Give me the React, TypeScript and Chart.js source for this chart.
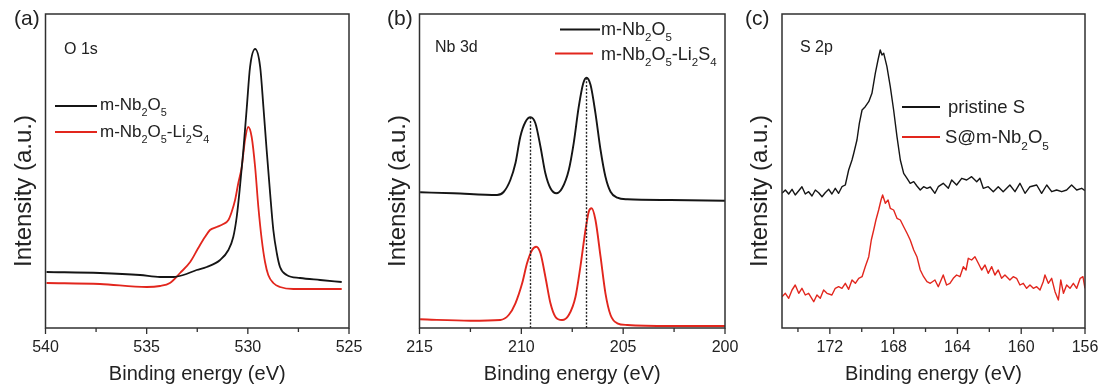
import React, { useEffect, useRef } from "react";
import { Chart, registerables } from "chart.js";

Chart.register(...registerables);

const FONT = '"Liberation Sans", Arial, Helvetica, sans-serif';
const H = 387;
const BLACK = "#151515";
const RED = "#e2261d";
const INK = "#222222";

// ---------- Panel (a) O 1s ----------
const aPristineE = [539.95, 537.31, 535.33, 534.34, 533.68, 533.19, 532.53, 532.03, 531.37, 530.96, 530.72, 530.55, 530.39, 530.22, 530.05, 529.89, 529.64, 529.39, 529.23, 529.07, 528.9, 528.74, 528.57, 528.41, 528.08, 527.42, 526.43, 525.36];
const aPristineI = [56, 55, 53, 51, 51, 53, 58, 61, 68, 78, 91, 111, 141, 178, 221, 261, 279, 261, 221, 178, 135, 98, 75, 61, 53, 50, 48, 46];
const aLi2S4E = [539.95, 537.31, 535.0, 534.34, 533.85, 533.35, 532.85, 532.45, 532.12, 531.87, 531.54, 531.21, 530.96, 530.8, 530.63, 530.47, 530.3, 530.14, 529.98, 529.81, 529.64, 529.48, 529.31, 529.15, 528.99, 528.74, 528.41, 527.75, 526.43, 525.36];
const aLi2S4I = [45, 44, 41, 42, 45, 55, 66, 80, 91, 98, 101, 104, 108, 116, 128, 145, 161, 188, 201, 191, 161, 121, 88, 66, 53, 45, 41, 39, 39, 39];
const aMajorTicks = [540, 535, 530, 525];
const aMinorTicks = [537.5, 532.5, 527.5];
const aLegend = ["m-Nb_2O_5", "m-Nb_2O_5-Li_2S_4"];

// ---------- Panel (b) Nb 3d ----------
const bPristineE = [214.97, 213.33, 211.19, 210.87, 210.54, 210.29, 210.05, 209.8, 209.55, 209.31, 209.06, 208.82, 208.57, 208.28, 208.0, 207.67, 207.43, 207.18, 206.96, 206.8, 206.6, 206.36, 206.11, 205.87, 205.62, 205.29, 204.8, 202.67, 200.0];
const bPristineI = [135.7, 134.7, 133, 136, 148, 164.7, 191.3, 206, 210.7, 204.7, 181.3, 154.7, 139.7, 134.7, 139.7, 158, 184.7, 221.3, 244.7, 250.3, 243, 214.7, 178, 151.3, 136.3, 130.3, 128.7, 128, 127.3];
const bLi2S4E = [214.97, 212.51, 211.03, 210.62, 210.29, 209.96, 209.72, 209.47, 209.27, 209.06, 208.82, 208.57, 208.33, 208.0, 207.67, 207.34, 207.1, 206.85, 206.69, 206.55, 206.36, 206.11, 205.87, 205.62, 205.29, 204.8, 202.67, 200.0];
const bLi2S4I = [8.7, 7.3, 8, 13, 24.7, 44.7, 64.7, 78, 81.3, 74.7, 51.3, 24.7, 11.3, 8, 13, 31.3, 61.3, 98, 116.3, 119.7, 108, 71.3, 34.7, 13, 4.7, 3, 2, 2];
const bGuideE = [209.55, 206.8];
const bGuideTop = [210.7, 250.3];
const bMajorTicks = [215, 210, 205, 200];
const bMinorTicks = [212.5, 207.5, 202.5];
const bLegend = ["m-Nb_2O_5", "m-Nb_2O_5-Li_2S_4"];

// ---------- Panel (c) S 2p ----------
const cPristineE = [175.0, 174.79, 174.58, 174.37, 174.17, 173.95, 173.75, 173.54, 173.33, 173.12, 172.91, 172.7, 172.49, 172.29, 172.07, 171.87, 171.66, 171.45, 171.24, 171.03, 170.82, 170.61, 170.5, 170.3, 170.15, 169.98, 169.78, 169.56, 169.36, 169.15, 168.98, 168.84, 168.73, 168.62, 168.42, 168.21, 168.0, 167.79, 167.58, 167.37, 167.16, 166.96, 166.74, 166.54, 166.33, 166.12, 165.91, 165.7, 165.41, 165.2, 164.89, 164.57, 164.36, 164.05, 163.73, 163.42, 163.11, 162.79, 162.59, 162.38, 162.07, 161.75, 161.44, 161.13, 160.71, 160.39, 160.08, 159.76, 159.45, 159.03, 158.72, 158.4, 158.09, 157.78, 157.46, 157.15, 156.84, 156.52, 156.21, 156.0];
const cPristineI = [134.7, 138, 134, 138.7, 133, 137.3, 141.3, 134, 136.3, 132, 138, 135.3, 131.3, 135.3, 138.7, 134, 139.7, 134.7, 141.3, 143, 158, 168, 174.7, 188, 204.7, 218, 221.3, 226.3, 234.7, 254.7, 268, 278, 273, 274.7, 261.3, 241.3, 218, 191.3, 168, 154.7, 149.7, 144.7, 146.3, 142, 138, 141.3, 139.7, 141, 134.7, 141.3, 144.7, 139.7, 148, 143, 149.7, 148, 151.3, 146.3, 149.7, 139.7, 141.3, 136.3, 141.3, 136.3, 143, 136.3, 144.7, 134.7, 141.3, 143, 134.7, 143, 136.3, 138, 136.3, 138, 143, 138, 139.7, 137.3];
const cNbE = [175.0, 174.79, 174.58, 174.37, 174.17, 173.95, 173.75, 173.54, 173.33, 173.01, 172.81, 172.6, 172.39, 172.18, 171.87, 171.66, 171.45, 171.24, 171.03, 170.82, 170.61, 170.4, 170.19, 169.98, 169.78, 169.56, 169.4, 169.25, 169.11, 168.94, 168.79, 168.69, 168.52, 168.35, 168.21, 168.0, 167.79, 167.58, 167.37, 167.16, 166.96, 166.74, 166.54, 166.33, 166.12, 165.91, 165.7, 165.41, 165.2, 164.89, 164.68, 164.47, 164.26, 164.05, 163.84, 163.63, 163.46, 163.32, 163.11, 162.9, 162.69, 162.48, 162.27, 162.07, 161.85, 161.65, 161.44, 161.23, 161.02, 160.71, 160.5, 160.29, 160.08, 159.87, 159.66, 159.45, 159.24, 159.03, 158.82, 158.62, 158.51, 158.3, 158.09, 157.88, 157.67, 157.52, 157.35, 157.15, 156.94, 156.73, 156.52, 156.3, 156.13, 156.0];
const cNbI = [31.3, 34.7, 29.7, 38, 43, 34.7, 39.7, 33, 34.7, 26.3, 33, 29.7, 38, 34.7, 33, 39.7, 41.3, 39.7, 44.7, 38.7, 48, 44.7, 49.7, 51.3, 61.3, 71.3, 88, 98, 108, 118, 128, 133, 124.7, 128, 119.7, 118, 109.7, 108, 101.3, 94.7, 88, 78, 71.3, 58, 51.3, 46.3, 44.7, 48, 41.3, 53, 43, 44.7, 49.7, 53, 51.3, 61.3, 58, 69.7, 68, 71.3, 64.7, 58, 63, 54.7, 61.3, 53, 58, 49.7, 53, 48, 51.3, 49.7, 43, 44.7, 39.7, 43, 39.7, 41.3, 38, 46.3, 53, 44.7, 49.7, 36.3, 28, 48, 34.7, 43, 39.7, 44.7, 39.7, 49.7, 51.3, 39.7];
const cMajorTicks = [172, 168, 164, 160, 156];
const cMinorTicks = [174, 170, 166, 162, 158];
const cLegend = ["pristine S", "S@m-Nb_2O_5"];

const X_TITLE = "Binding energy (eV)";
const Y_TITLE = "Intensity (a.u.)";

type Series = { e: number[]; v: number[]; color: string; width: number; smooth: boolean; dash?: number[] };
type LegendRow = { label: string; color: string; x1: number; x2: number; y: number; tx: number; ty: number };
type Panel = {
  tag: string; tagX: number; core: string; coreX: number; coreY: number;
  left: number; width: number; plotL: number; plotR: number;
  min: number; max: number; major: number[]; minor: number[];
  series: Series[]; legend: LegendRow[]; legendSize: number;
};

const zip = (e: number[], v: number[]) => e.map((x, i) => ({ x, y: v[i] }));

const guides: Series[] = bGuideE.map((e, i) => ({ e: [e, e], v: [bGuideTop[i], 0], color: "#222", width: 1.4, smooth: false, dash: [2, 1.6] }));

const panels: Panel[] = [
  {
    tag: "(a)", tagX: 14, core: "O 1s", coreX: 64, coreY: 54,
    left: 0, width: 370, plotL: 45.5, plotR: 349,
    min: 525, max: 540, major: aMajorTicks, minor: aMinorTicks,
    series: [
      { e: aPristineE, v: aPristineI, color: BLACK, width: 1.8, smooth: true },
      { e: aLi2S4E, v: aLi2S4I, color: RED, width: 1.8, smooth: true },
    ],
    legend: [
      { label: aLegend[0], color: BLACK, x1: 55, x2: 97, y: 106, tx: 100, ty: 110 },
      { label: aLegend[1], color: RED, x1: 55, x2: 97, y: 132, tx: 100, ty: 137 },
    ],
    legendSize: 17,
  },
  {
    tag: "(b)", tagX: 387, core: "Nb 3d", coreX: 435, coreY: 52,
    left: 370, width: 370, plotL: 419.5, plotR: 725,
    min: 200, max: 215, major: bMajorTicks, minor: bMinorTicks,
    series: [
      ...guides,
      { e: bPristineE, v: bPristineI, color: BLACK, width: 1.9, smooth: true },
      { e: bLi2S4E, v: bLi2S4I, color: RED, width: 1.9, smooth: true },
    ],
    legend: [
      { label: bLegend[0], color: BLACK, x1: 560, x2: 600, y: 29.5, tx: 601, ty: 35 },
      { label: bLegend[1], color: RED, x1: 555, x2: 593, y: 53.5, tx: 601, ty: 59.5 },
    ],
    legendSize: 18,
  },
  {
    tag: "(c)", tagX: 745, core: "S 2p", coreX: 800, coreY: 52,
    left: 740, width: 363, plotL: 782, plotR: 1085,
    min: 156, max: 175, major: cMajorTicks, minor: cMinorTicks,
    series: [
      { e: cPristineE, v: cPristineI, color: BLACK, width: 1.4, smooth: false },
      { e: cNbE, v: cNbI, color: RED, width: 1.4, smooth: false },
    ],
    legend: [
      { label: cLegend[0], color: BLACK, x1: 902, x2: 940, y: 107, tx: 948, ty: 113 },
      { label: cLegend[1], color: RED, x1: 902, x2: 940, y: 137, tx: 945, ty: 143 },
    ],
    legendSize: 18.5,
  },
];

function drawRich(ctx: CanvasRenderingContext2D, label: string, x: number, y: number, size: number) {
  let cx = x;
  for (let i = 0; i < label.length; i++) {
    let ch = label[i];
    let sub = false;
    if (ch === "_" && i + 1 < label.length) { sub = true; i++; ch = label[i]; }
    const s = sub ? size * 0.64 : size;
    ctx.font = `${s}px ${FONT}`;
    ctx.fillText(ch, cx, sub ? y + size * 0.36 : y);
    cx += ctx.measureText(ch).width;
  }
}

function makeDecor(p: Panel) {
  return {
    id: "decor",
    afterDraw(chart: any) {
      const { ctx, chartArea: a } = chart;
      const xs = chart.scales.x;
      ctx.save();
      // frame
      ctx.strokeStyle = "#303030";
      ctx.lineWidth = 1.5;
      ctx.strokeRect(a.left, a.top, a.right - a.left, a.bottom - a.top);
      // ticks
      ctx.lineWidth = 1.3;
      ctx.beginPath();
      for (const v of p.major) { const x = xs.getPixelForValue(v); ctx.moveTo(x, a.bottom); ctx.lineTo(x, a.bottom + 6); }
      for (const v of p.minor) { const x = xs.getPixelForValue(v); ctx.moveTo(x, a.bottom); ctx.lineTo(x, a.bottom + 4); }
      ctx.stroke();
      // texts
      ctx.fillStyle = INK;
      ctx.textAlign = "left";
      ctx.textBaseline = "alphabetic";
      ctx.font = `21px ${FONT}`;
      ctx.fillText(p.tag, p.tagX - p.left, 25);
      ctx.font = `16px ${FONT}`;
      ctx.fillText(p.core, p.coreX - p.left, p.coreY);
      // legend
      for (const r of p.legend) {
        ctx.strokeStyle = r.color;
        ctx.lineWidth = 1.8;
        ctx.beginPath();
        ctx.moveTo(r.x1 - p.left, r.y);
        ctx.lineTo(r.x2 - p.left, r.y);
        ctx.stroke();
        ctx.fillStyle = INK;
        drawRich(ctx, r.label, r.tx - p.left, r.ty, p.legendSize);
      }
      // y title
      ctx.save();
      ctx.translate(p.plotL - p.left - 14.8, 191);
      ctx.rotate(-Math.PI / 2);
      ctx.textAlign = "center";
      ctx.font = `24px ${FONT}`;
      ctx.fillStyle = INK;
      ctx.fillText(Y_TITLE, 0, 0);
      ctx.restore();
      ctx.restore();
    },
  };
}

function PanelChart({ p }: { p: Panel }) {
  const ref = useRef<HTMLCanvasElement | null>(null);
  useEffect(() => {
    if (!ref.current) return;
    const chart = new Chart(ref.current, {
      type: "line",
      data: {
        datasets: p.series.map((s) => ({
          data: zip(s.e, s.v),
          borderColor: s.color,
          borderWidth: s.width,
          borderDash: s.dash || [],
          pointRadius: 0,
          fill: false,
          tension: 0,
          cubicInterpolationMode: s.smooth ? "monotone" : "default",
          borderJoinStyle: "round",
        })) as any,
      },
      options: {
        animation: false,
        responsive: false,
        maintainAspectRatio: false,
        events: [],
        layout: { padding: { left: p.plotL - p.left, right: p.left + p.width - p.plotR, top: 14, bottom: 0 } },
        plugins: { legend: { display: false }, tooltip: { enabled: false }, title: { display: false } },
        scales: {
          x: {
            type: "linear",
            min: p.min,
            max: p.max,
            reverse: true,
            afterFit: (s: any) => { s.height = 59; },
            afterBuildTicks: (s: any) => { s.ticks = p.major.map((v) => ({ value: v })); },
            grid: { display: false, drawTicks: true, tickLength: 10 },
            border: { display: false },
            ticks: {
              font: { family: FONT, size: 16 },
              color: INK,
              padding: 0,
              maxRotation: 0,
              autoSkip: false,
              callback: (v: any) => String(v),
            },
            title: {
              display: true,
              text: X_TITLE,
              font: { family: FONT, size: 20 },
              color: INK,
              padding: { top: 0, bottom: 1 },
            },
          },
          y: { display: false, min: 0, max: 314 },
        },
      } as any,
      plugins: [makeDecor(p)],
    });
    return () => chart.destroy();
  }, [p]);
  return (
    <canvas
      ref={ref}
      width={p.width}
      height={H}
      style={{ position: "absolute", left: p.left, top: 0, width: p.width, height: H }}
    />
  );
}

export default function App() {
  return (
    <div style={{ position: "fixed", left: 0, top: 0, width: 1103, height: H, background: "#ffffff", overflow: "hidden" }}>
      {panels.map((p) => (
        <PanelChart key={p.tag} p={p} />
      ))}
    </div>
  );
}
